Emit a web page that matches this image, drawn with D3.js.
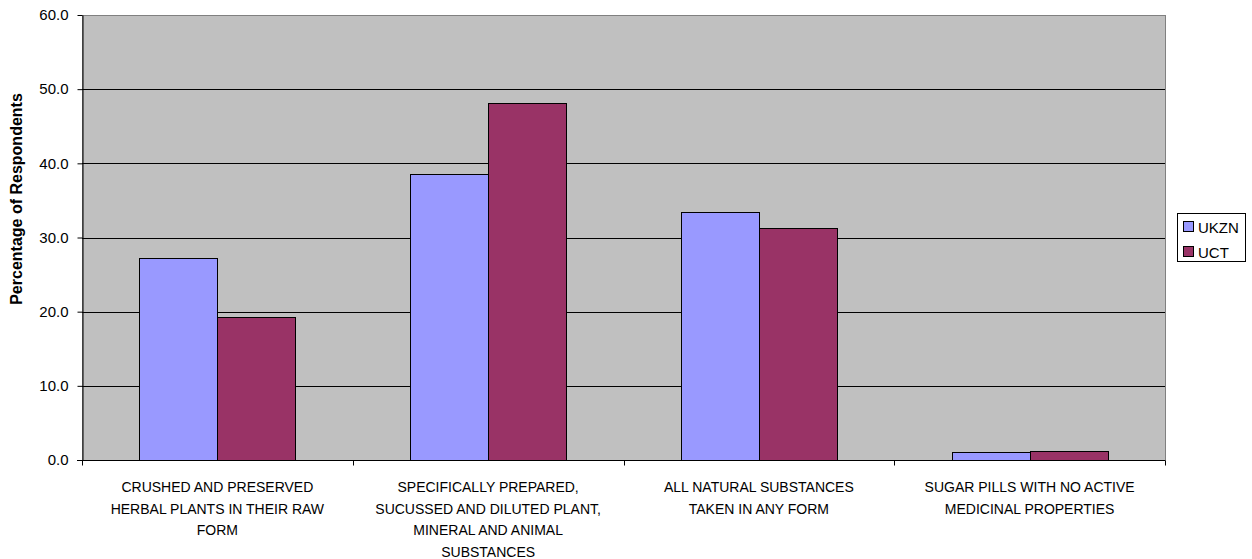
<!DOCTYPE html>
<html><head><meta charset="utf-8">
<script src="https://cdn.jsdelivr.net/npm/d3@7"></script>
<style>body{margin:0;background:#fff;}svg{display:block;font-family:"Liberation Sans",Arial,sans-serif;}</style>
</head><body>
<svg id="c" width="1252" height="559"></svg>
<script>
const categories = [
  ["CRUSHED AND PRESERVED", "HERBAL PLANTS IN THEIR RAW", "FORM"],
  ["SPECIFICALLY PREPARED,", "SUCUSSED AND DILUTED PLANT,", "MINERAL AND ANIMAL", "SUBSTANCES"],
  ["ALL NATURAL SUBSTANCES", "TAKEN IN ANY FORM"],
  ["SUGAR PILLS WITH NO ACTIVE", "MEDICINAL PROPERTIES"]
];
const seriesNames = ["UKZN", "UCT"];
const ukzn = [27.2, 38.5, 33.4, 1.1];
const uct = [19.3, 48.2, 31.3, 1.2];
const yTicks = [0, 10, 20, 30, 40, 50, 60];
const colors = ["#9999FF", "#993366"];

const svg = d3.select("#c");
const L = 82, R = 1165, T = 15, B = 460;
const idx = categories.map((d, i) => i);
const x0 = d3.scaleBand().domain(idx).range([L, R]).paddingInner(0).paddingOuter(0);
const x1 = d3.scaleBand().domain(seriesNames).range([0, x0.bandwidth()]).paddingInner(0).paddingOuter(0.736);
const y = d3.scaleLinear().domain([0, 60]).range([B, T]);

svg.append("rect").attr("x", L + 0.5).attr("y", T + 0.5).attr("width", R - L).attr("height", B - T)
  .attr("fill", "#C0C0C0").attr("stroke", "#808080").attr("stroke-width", 1);

svg.append("g").selectAll("line").data(yTicks.filter(v => v > 0 && v < 60)).join("line")
  .attr("x1", L).attr("x2", R).attr("y1", d => Math.round(y(d)) + 0.5).attr("y2", d => Math.round(y(d)) + 0.5)
  .attr("stroke", "#000").attr("stroke-width", 1);

const data = [ukzn, uct];
const g = svg.append("g");
seriesNames.forEach((s, si) => {
  g.selectAll(null).data(data[si]).join("rect")
    .attr("x", (d, i) => Math.round(x0(i) + x1(s)) + 0.5)
    .attr("y", d => Math.round(y(d)) + 0.5)
    .attr("width", Math.round(x1.bandwidth()))
    .attr("height", d => Math.round(B - y(d)))
    .attr("fill", colors[si]).attr("stroke", "#000").attr("stroke-width", 1);
});

// y axis
const ya = svg.append("g").attr("transform", `translate(${L + 0.5},0)`)
  .call(d3.axisLeft(y).tickValues(yTicks).tickFormat(d3.format(".1f")).tickSize(5).tickSizeOuter(0));
ya.select(".domain").attr("stroke", "#000");
ya.selectAll("line").attr("stroke", "#000");
ya.selectAll("text").attr("font-size", 15).attr("fill", "#000").attr("font-family", "Liberation Sans, Arial, sans-serif").attr("x", -14);

// x axis
const xa = svg.append("g").attr("transform", `translate(0,${B + 0.5})`);
xa.append("line").attr("x1", L - 5).attr("x2", R).attr("stroke", "#000");
xa.selectAll(null).data(d3.range(categories.length + 1)).join("line")
  .attr("x1", i => Math.round(L + i * x0.bandwidth()) + 0.5).attr("x2", i => Math.round(L + i * x0.bandwidth()) + 0.5)
  .attr("y1", 0).attr("y2", 5).attr("stroke", "#000");
categories.forEach((lines, i) => {
  const t = svg.append("text").attr("text-anchor", "middle").attr("font-size", 14).attr("fill", "#000");
  lines.forEach((ln, j) => {
    t.append("tspan").attr("x", x0(i) + x0.bandwidth() / 2).attr("y", 492 + j * 21.5).text(ln);
  });
});

// y title
svg.append("text").attr("transform", `translate(22,199) rotate(-90)`)
  .attr("text-anchor", "middle").attr("font-size", 16).attr("font-weight", "bold").text("Percentage of Respondents");

// legend
const lg = svg.append("g");
lg.append("rect").attr("x", 1177.5).attr("y", 213.5).attr("width", 68).attr("height", 48)
  .attr("fill", "#fff").attr("stroke", "#000");
seriesNames.forEach((s, si) => {
  lg.append("rect").attr("x", 1183.5).attr("y", 221.5 + si * 25).attr("width", 10).attr("height", 10)
    .attr("fill", colors[si]).attr("stroke", "#000");
  lg.append("text").attr("x", 1198).attr("y", 233 + si * 25).attr("font-size", 15).text(s);
});
</script>
</body></html>
